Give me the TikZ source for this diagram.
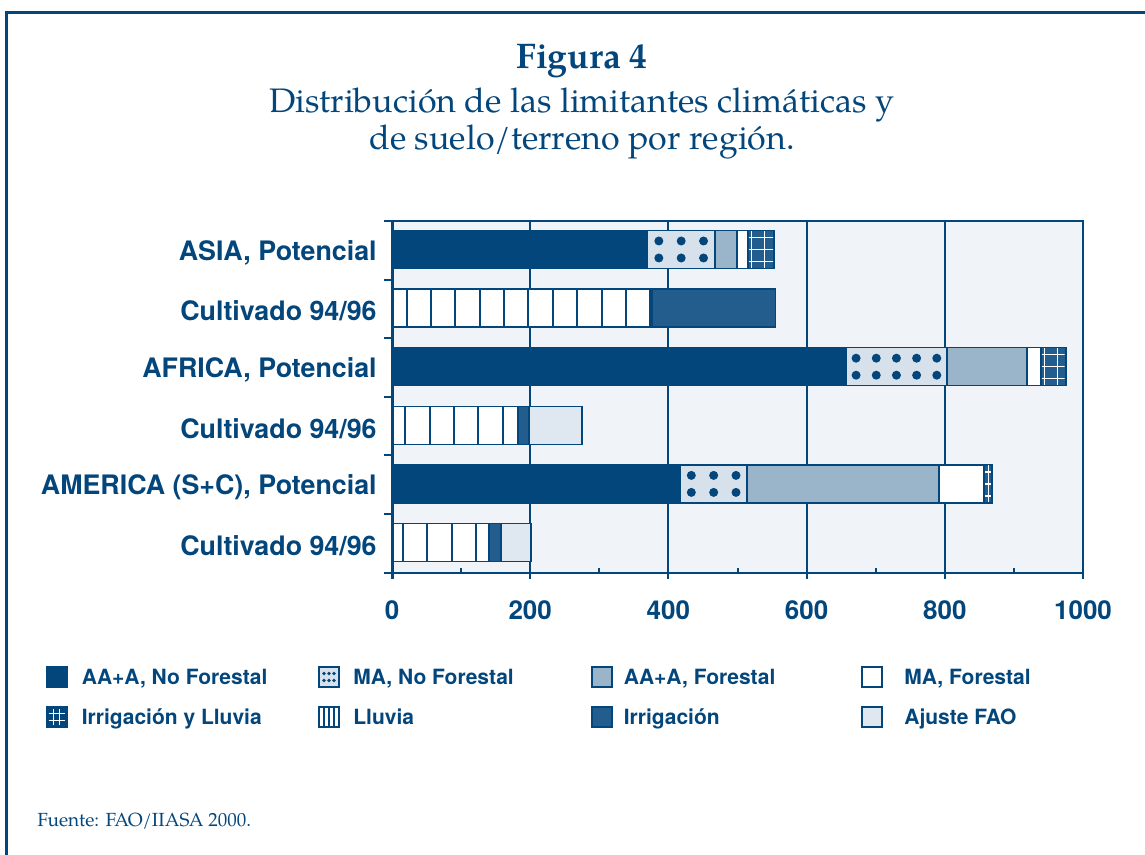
\documentclass[tikz,border=0pt]{standalone}
\usepackage{fontspec}
\setmainfont{TeX Gyre Pagella}
\setsansfont{TeX Gyre Heros}
\usepackage{tikz}
\usetikzlibrary{positioning}

\definecolor{navy}{HTML}{03467C}
\definecolor{irrblue}{HTML}{235D8D}
\definecolor{forest}{HTML}{9AB4CA}
\definecolor{dotbg}{HTML}{D7E1EB}
\definecolor{faobg}{HTML}{DFE7F0}
\definecolor{plotbg}{HTML}{F0F4F8}

\begin{document}
\begin{tikzpicture}[x=0.5pt, y=-0.5pt, text=navy,
    seg/.style={draw=navy, line width=0.8pt},
    aana/.style={seg, fill=navy},
    mana/.style={seg, fill=dotbg},
    aafo/.style={seg, fill=forest},
    mafo/.style={seg, fill=white},
    irrll/.style={seg, fill=irrblue},
    lluv/.style={seg, fill=white},
    irr/.style={seg, fill=irrblue},
    ajuste/.style={seg, fill=faobg},
    gridline/.style={navy, line width=1pt},
    cat/.style={anchor=east, inner sep=0pt, yshift=-1.5pt, font=\sffamily\bfseries\fontsize{13.4}{16}\selectfont},
    tick/.style={inner sep=0pt, font=\sffamily\bfseries\fontsize{13}{16}\selectfont},
    legbox/.style={draw=navy, line width=1pt, minimum size=10pt, inner sep=0pt},
    legtext/.style={anchor=west, inner sep=0pt, text height=7.6pt, text depth=0pt,
        font=\sffamily\bfseries\fontsize{10.5}{12}\selectfont}]

    \useasboundingbox (0,0) rectangle (1145,855);
    \draw[navy, line width=1.5pt] (6,855) -- (6,13) -- (1145,13);

    % title
    \node[font=\rmfamily\bfseries\fontsize{17.8}{21}\selectfont] (fig) at (582,61) {Figura 4};
    \node[below=-2pt of fig, align=center, font=\rmfamily\fontsize{17}{18.5}\selectfont] (sub)
        {Distribución de las limitantes climáticas y\\de suelo/terreno por región.};

    % plot area, x in data units
    \begin{scope}[shift={(392,0)}, xscale=0.691]
        \fill[plotbg] (0,221) rectangle (1000,572.6);
        \foreach \v in {200,400,600,800} \draw[gridline] (\v,221) -- (\v,579);
        \foreach \v in {100,300,...,900} \draw[gridline] (\v,572.6) -- (\v,567.5);
        \draw[gridline] (0,572.6) -- (1000,572.6);
        \draw[gridline] (0,221) -- (1000,221) -- (1000,579);

        % bars: centre/from/to/kind
        \foreach \y/\a/\b/\k in {
            249.5/0/370/aana, 249.5/370/467/mana, 249.5/467/499/aafo, 249.5/499/515/mafo, 249.5/515/553/irrll,
            308.1/0/376/lluv, 308.1/376/555/irr,
            366.7/0/657/aana, 366.7/657/803/mana, 366.7/803/919/aafo, 366.7/919/939/mafo, 366.7/939/975/irrll,
            425.3/0/182/lluv, 425.3/182/198/irr, 425.3/198/275/ajuste,
            483.9/0/417/aana, 483.9/417/514/mana, 483.9/514/792/aafo, 483.9/792/857/mafo, 483.9/857/868/irrll,
            542.5/0/140/lluv, 542.5/140/158/irr, 542.5/158/201/ajuste}
            \draw[\k] (\a,\y-19) rectangle (\b,\y+19);

        % Lluvia stripes
        \foreach \y/\o/\b in {308.1/21/376, 425.3/19/182, 542.5/15.5/140} {
            \begin{scope}
                \clip (0,\y-19) rectangle (\b,\y+19);
                \foreach \k in {0,...,10}
                    \draw[navy, line width=1pt] (\o+35.3*\k,\y-19) -- ++(0,38);
            \end{scope}
        }

        % Irrigacion y Lluvia grid
        \foreach \y/\a/\b in {249.5/515/553, 366.7/939/975, 483.9/857/868} {
            \begin{scope}
                \clip (\a+1.5,\y-18) rectangle (\b-1.5,\y+18);
                \foreach \k in {0,1,2}
                    \draw[white, line width=0.6pt] (\a+5.8+18.1*\k,\y-19) -- ++(0,38);
                \foreach \d in {-12,0,12}
                    \draw[white, line width=0.6pt] (\a,\y+\d) -- (\b,\y+\d);
            \end{scope}
        }
    \end{scope}

    % MA dots
    \foreach \y/\a/\b/\n in {249.5/370/467/3, 366.7/657/803/5, 483.9/417/514/3}
        \foreach \i in {1,...,\n}
            \foreach \d in {-8.5,8.5}
                \fill[navy] ({392+0.691*(\a+(\i-0.5)*(\b-\a)/\n)},\y+\d) circle[radius=4.5];

    % left axis
    \draw[navy, line width=1.5pt] (392,221) -- (392,579);
    \foreach \k in {0,...,6} \draw[gridline] (384,221+58.6*\k) -- (392,221+58.6*\k);

    % category labels
    \node[cat] (asiap) at (377,249.5) {ASIA, Potencial};
    \node[cat] (asiac) at (377,308.1) {Cultivado 94/96};
    \node[cat] (afrip) at (377,366.7) {AFRICA, Potencial};
    \node[cat] (afric) at (377,425.3) {Cultivado 94/96};
    \node[cat] (amerp) at (377,483.9) {AMERICA (S+C), Potencial};
    \node[cat] (amerc) at (377,542.5) {Cultivado 94/96};

    % x labels
    \foreach \v in {0,200,...,1000}
        \node[tick] (x\v) at ({392+0.691*\v},610) {\v};

    % legend
    \node[legbox, fill=navy] (laana) at (56.5,677) {};
    \node[legtext, right=7pt of laana] (taana) {AA+A, No Forestal};
    \node[legbox, fill=dotbg] (lmana) at (329,677) {};
    \node[legtext, right=6.5pt of lmana] (tmana) {MA, No Forestal};
    \node[legbox, fill=forest] (laafo) at (601.5,677) {};
    \node[legtext, right=5.5pt of laafo] (taafo) {AA+A, Forestal};
    \node[legbox, fill=white] (lmafo) at (872,677) {};
    \node[legtext, right=10.5pt of lmafo] (tmafo) {MA, Forestal};

    \node[legbox, fill=navy] (lirrll) at (56.5,717) {};
    \node[legtext, right=7pt of lirrll] (tirrll) {Irrigación y Lluvia};
    \node[legbox, fill=white] (llluv) at (329,717) {};
    \node[legtext, right=6.5pt of llluv] (tlluv) {Lluvia};
    \node[legbox, fill=irrblue] (lirr) at (601.5,717) {};
    \node[legtext, right=5.5pt of lirr] (tirr) {Irrigación};
    \node[legbox, fill=faobg] (lajuste) at (872,717) {};
    \node[legtext, right=10.5pt of lajuste] (tajuste) {Ajuste FAO};

    % legend patterns
    \foreach \dx in {-5,0,5}
        \foreach \dy in {-3.5,3.5}
            \fill[navy] (329+\dx,677+\dy) circle[radius=1.9];
    \foreach \d in {-3.3,3.3} {
        \draw[white, line width=0.5pt] (56.5+\d,709) -- (56.5+\d,725);
        \draw[white, line width=0.5pt] (48.5,717+\d) -- (64.5,717+\d);
    }
    \foreach \d in {-5,0,5} \draw[navy, line width=1pt] (329+\d,708) -- (329+\d,726);

    % source
    \node[anchor=base west, inner sep=0pt, font=\rmfamily\fontsize{9.5}{11}\selectfont] (fuente) at (37,826)
        {Fuente: FAO/IIASA 2000.};
\end{tikzpicture}
\end{document}
